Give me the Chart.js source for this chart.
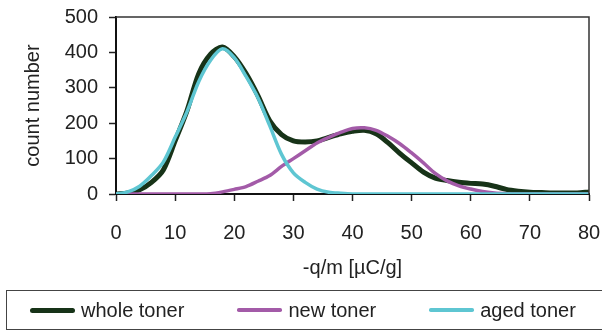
<!DOCTYPE html>
<html>
<head>
<meta charset="utf-8">
<script src="https://cdn.jsdelivr.net/npm/chart.js@4"></script>
<style>
  html, body { margin: 0; padding: 0; background: #fff; }
  #wrap { position: relative; width: 602px; height: 331px; }
  #legend {
    position: absolute; left: 6px; top: 290px; width: 591px; height: 38px;
    border: 1.3px solid #444; box-sizing: content-box;
    display: flex; align-items: center; gap: 53px; padding-left: 23px;
    font-family: 'Liberation Sans', Arial, sans-serif; font-size: 20px; color: #222;
  }
  #legend .item { display: flex; align-items: center; white-space: nowrap; }
  #legend .swatch { display: inline-block; width: 45px; margin-right: 6px; }
</style>
</head>
<body>
<div id="wrap"><canvas id="chart"></canvas><div id="legend"></div></div>
<script>
// charge to mass ratio (-q/m, µC/g)
const qm = [0, 2, 4, 6, 8, 10, 12, 14, 16, 18, 20, 22, 24, 26, 28, 30, 32, 34, 36, 38, 40,
            42, 44, 46, 48, 50, 52, 54, 56, 58, 60, 62, 64, 66, 68, 70, 72, 74, 76, 78, 80];

const wholeToner = [0, 3, 12, 33, 68, 150, 235, 340, 395, 415, 388, 340, 278, 207, 168, 150, 147, 150, 160, 170, 177,
                    180, 170, 145, 115, 88, 62, 45, 38, 33, 30, 28, 22, 13, 8, 5, 4, 3, 3, 3, 6];
const newToner = [0, 0, 0, 0, 0, 0, 0, 0, 1, 6, 13, 21, 36, 52, 78, 100, 122, 144, 160, 174, 185,
                  187, 180, 163, 142, 116, 88, 58, 37, 23, 14, 7, 3, 1, 0, 0, 0, 0, 0, 0, 0];
const agedToner = [0, 6, 22, 52, 90, 160, 232, 318, 378, 410, 385, 332, 272, 193, 112, 60, 33, 14, 5, 2, 0,
                   0, 0, 0, 0, 0, 0, 0, 0, 0, 0, 0, 0, 0, 0, 0, 0, 0, 0, 0, 0];

const xTicks = [0, 10, 20, 30, 40, 50, 60, 70, 80];
const yTicks = [0, 100, 200, 300, 400, 500];

const toPoints = arr => qm.map((x, i) => ({ x: x, y: arr[i] }));

// top and right edge of the plot box
const framePlugin = {
    id: 'frame',
    afterDraw(chart) {
        const ctx = chart.ctx;
        const a = chart.chartArea;
        ctx.save();
        ctx.strokeStyle = '#333';
        ctx.lineWidth = 1.5;
        ctx.beginPath();
        ctx.moveTo(a.left, a.top);
        ctx.lineTo(a.right, a.top);
        ctx.lineTo(a.right, a.bottom);
        ctx.stroke();
        ctx.restore();
    }
};

// legend in a box under the chart, built from the datasets
const htmlLegend = {
    id: 'htmlLegend',
    afterUpdate(chart) {
        const box = document.getElementById('legend');
        box.innerHTML = '';
        chart.data.datasets.forEach(ds => {
            const item = document.createElement('div');
            item.className = 'item';
            const sw = document.createElement('span');
            sw.className = 'swatch';
            sw.style.height = ds.borderWidth + 'px';
            sw.style.background = ds.borderColor;
            sw.style.borderRadius = (ds.borderWidth / 2) + 'px';
            item.appendChild(sw);
            item.appendChild(document.createTextNode(ds.label));
            box.appendChild(item);
        });
    }
};

const font = { family: "'Liberation Sans', Arial, sans-serif", size: 20 };

new Chart(document.getElementById('chart'), {
    type: 'line',
    data: {
        datasets: [{
            label: 'whole toner',
            data: toPoints(wholeToner),
            borderColor: '#173318',
            borderWidth: 5,
            order: 3
        }, {
            label: 'new toner',
            data: toPoints(newToner),
            borderColor: '#a35ba8',
            borderWidth: 3.5,
            order: 2
        }, {
            label: 'aged toner',
            data: toPoints(agedToner),
            borderColor: '#5ec6d2',
            borderWidth: 3.5,
            order: 1
        }]
    },
    options: {
        responsive: true,
        maintainAspectRatio: false,
        animation: false,
        elements: {
            point: { radius: 0 },
            line: { tension: 0.3, fill: false }
        },
        layout: {
            padding: { left: 0, right: 13, top: 17, bottom: 51 }
        },
        plugins: {
            tooltip: { enabled: false },
            legend: { display: false }
        },
        scales: {
            x: {
                type: 'linear',
                min: 0,
                max: 80,
                afterFit(scale) {
                    scale.height = 86;
                    scale.paddingLeft = 0;
                    scale.paddingRight = 0;
                },
                afterBuildTicks(scale) { scale.ticks = xTicks.map(v => ({ value: v })); },
                ticks: { font: font, color: '#222', padding: 20, maxRotation: 0, autoSkip: false },
                grid: { drawOnChartArea: false, drawTicks: true, tickLength: 7, tickColor: '#222', tickWidth: 1.5 },
                border: { display: true, color: '#111', width: 2 },
                title: {
                    display: true,
                    text: '-q/m [µC/g]',
                    font: font,
                    color: '#222',
                    padding: { top: 0, bottom: 0 }
                }
            },
            y: {
                min: 0,
                max: 500,
                afterFit(scale) {
                    scale.width = 116;
                    scale.paddingTop = 0;
                    scale.paddingBottom = 0;
                },
                afterBuildTicks(scale) { scale.ticks = yTicks.map(v => ({ value: v })); },
                ticks: { font: font, color: '#222', padding: 11, autoSkip: false },
                grid: { drawOnChartArea: false, drawTicks: true, tickLength: 7, tickColor: '#222', tickWidth: 1.5 },
                border: { display: true, color: '#111', width: 2 },
                title: {
                    display: true,
                    text: 'count number',
                    font: font,
                    color: '#222',
                    padding: { top: 21, bottom: 0 }
                }
            }
        }
    },
    plugins: [framePlugin, htmlLegend]
});
</script>
</body>
</html>
